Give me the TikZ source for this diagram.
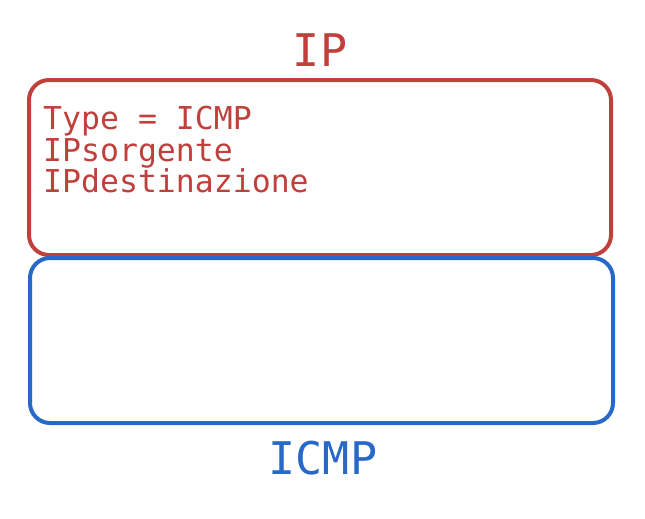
\documentclass[tikz,border=0pt]{standalone}
\usepackage{fontspec}
\setmonofont{DejaVu Sans Mono}
\definecolor{ipred}{RGB}{192,64,60}
\definecolor{icmpblue}{RGB}{40,104,200}
\begin{document}
\begin{tikzpicture}[x=1pt,y=-1pt,
  layer/.style={line width=4pt, rounded corners=20pt},
  title/.style={font=\ttfamily\fontsize{45}{45}\selectfont, inner sep=0pt},
  fields/.style={font=\ttfamily\fontsize{31.5}{31.5}\selectfont, inner sep=0pt, align=left, anchor=north west}
]
  \useasboundingbox (0,0) rectangle (645,519);
  % IP header box
  \draw[layer, ipred] (29,80) rectangle (611,255);
  % ICMP payload box
  \draw[layer, icmpblue] (30,258) rectangle (613,423);
  \node[title, text=ipred] (ip) at (320,50) {IP};
  \node[title, text=icmpblue] (icmp) at (323,458) {ICMP};
  \node[fields, text=ipred] (hdr) at (43,106) {Type = ICMP\\IPsorgente\\IPdestinazione};
\end{tikzpicture}
\end{document}
